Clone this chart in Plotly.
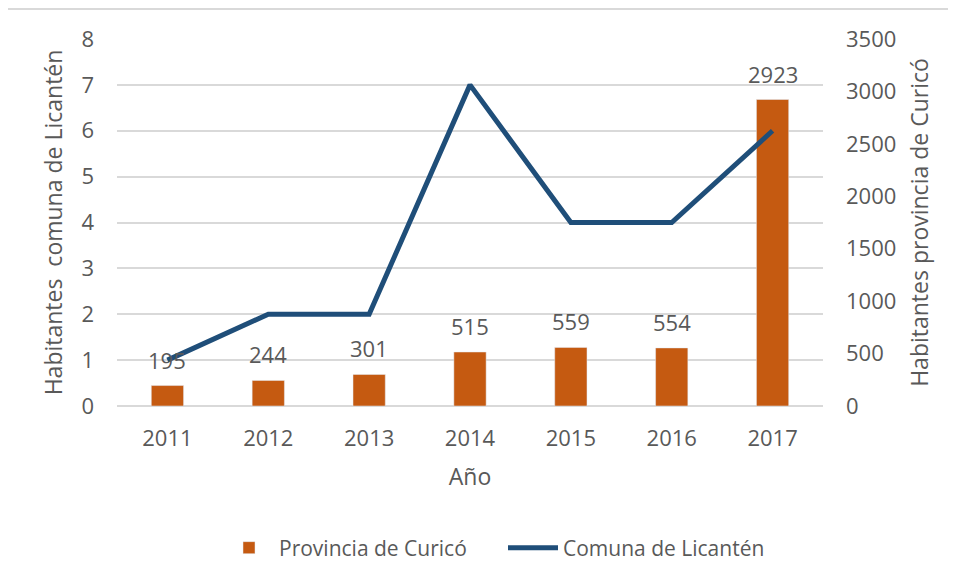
import plotly.graph_objects as go

# data
years = ["2011", "2012", "2013", "2014", "2015", "2016", "2017"]
provincia_curico = [195, 244, 301, 515, 559, 554, 2923]
comuna_licanten = [1, 2, 2, 7, 4, 4, 6]

W, H = 956, 579
OFF = 8  # page body margin
L, R, T, B = 117 - OFF, 133 + OFF, 39 - OFF, 173 + OFF
pw, ph = W - L - R, H - T - B

GRAY = "#595959"
FONT = "Open Sans, Liberation Sans, sans-serif"


def px_x(x):
    return (x - OFF - L) / pw


def px_y(y):
    return (H - B - (y - OFF)) / ph


fig = go.Figure()
# bars on the primary axis (shown on the right) so the line draws on top
fig.add_trace(go.Bar(
    x=years, y=provincia_curico, name="Provincia de Curicó", yaxis="y",
    marker=dict(color="#C55A11"), width=0.32,
))
fig.add_trace(go.Scatter(
    x=years, y=comuna_licanten, name="Comuna de Licantén", mode="lines",
    yaxis="y2", line=dict(color="#1F4E79", width=5),
))

# data labels above the bars (category index on the x axis)
for i, v in enumerate(provincia_curico):
    fig.add_annotation(
        x=i, y=v, xref="x", yref="y", text=str(v), showarrow=False,
        yanchor="middle", yshift=26, font=dict(size=22, color=GRAY, family=FONT),
    )

fig.update_layout(
    width=W, height=H,
    margin=dict(l=L, r=R, t=T, b=B, autoexpand=False),
    paper_bgcolor="white", plot_bgcolor="white",
    font=dict(family=FONT, color=GRAY, size=21),
    showlegend=True,
    legend=dict(orientation="h", x=px_x(219), xanchor="left", y=px_y(548), yanchor="middle",
                font=dict(size=21, color=GRAY), traceorder="normal", itemwidth=50,
                entrywidth=219),
    xaxis=dict(
        type="category", range=[-0.5, 6.5],
        showgrid=False, showline=False, ticks="", automargin=False,
        tickfont=dict(size=22, color=GRAY), ticklabelstandoff=17,
        title=dict(text="Año", font=dict(size=23, color=GRAY), standoff=17),
    ),
    yaxis2=dict(
        range=[0, 8], dtick=1, showgrid=True, gridcolor="#D9D9D9", gridwidth=2,
        zeroline=True, zerolinecolor="#D9D9D9", zerolinewidth=2,
        overlaying="y", side="left", automargin=False,
        tickfont=dict(size=22, color=GRAY), ticklabelstandoff=22,
        title=dict(text="Habitantes  comuna de Licantén", font=dict(size=23, color=GRAY), standoff=12),
    ),
    yaxis=dict(
        range=[0, 3500], dtick=500, side="right", automargin=False,
        showgrid=False, zeroline=False,
        tickfont=dict(size=22, color=GRAY), ticklabelstandoff=22,
        title=dict(text="Habitantes provincia de Curicó", font=dict(size=23, color=GRAY), standoff=16),
    ),
    shapes=[
        dict(type="line", xref="paper", yref="paper",
             x0=px_x(7), x1=px_x(960), y0=px_y(9), y1=px_y(9),
             line=dict(color="#D9D9D9", width=2), layer="below"),
        dict(type="line", xref="paper", yref="paper",
             x0=px_x(7), x1=px_x(7), y0=px_y(9), y1=px_y(590),
             line=dict(color="#D9D9D9", width=2), layer="below"),
    ],
)

fig.write_html("out.html")
